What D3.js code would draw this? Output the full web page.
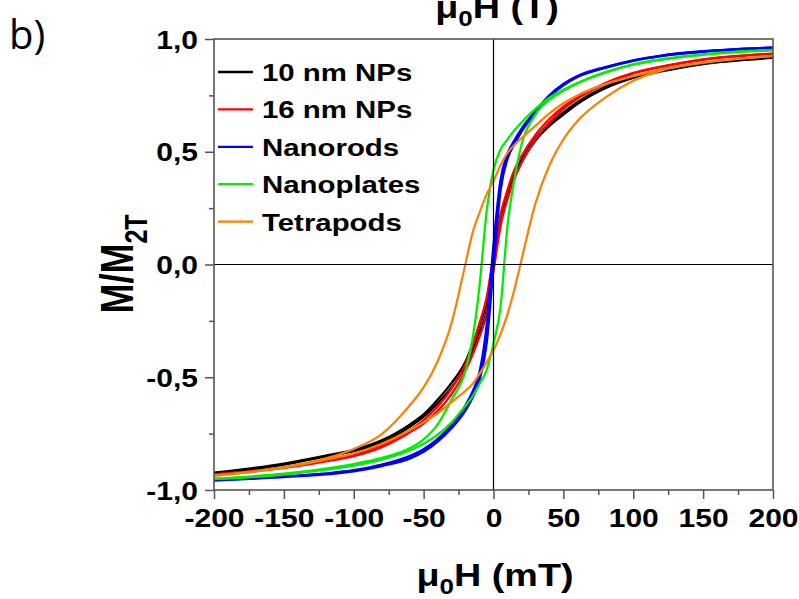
<!DOCTYPE html>
<html>
<head>
<meta charset="utf-8">
<script src="https://cdn.jsdelivr.net/npm/d3@7"></script>
<style>
html,body{margin:0;padding:0;background:#fff;}
svg{display:block;}
text{font-family:"Liberation Sans",Arial,sans-serif;}
</style>
</head>
<body>
<svg id="chart" width="799" height="599"></svg>
<script>
// Field grid (mT) shared by all branches
const fieldH = [-200,-150,-120,-100,-80,-60,-50,-40,-30,-20,-15,-10,-5,0,5,10,15,20,30,40,50,60,80,100,120,150,200];

// Descending (upper) and ascending (lower) branches, M/M2T
const np10Upper = [-0.923,-0.883,-0.848,-0.822,-0.78,-0.71,-0.665,-0.6,-0.525,-0.43,-0.355,-0.27,-0.17,0.03,0.21,0.32,0.405,0.465,0.56,0.625,0.675,0.72,0.788,0.832,0.86,0.891,0.918];
const np10Lower = [-0.927,-0.887,-0.852,-0.828,-0.79,-0.72,-0.675,-0.615,-0.545,-0.45,-0.385,-0.30,-0.21,-0.01,0.19,0.30,0.39,0.455,0.55,0.615,0.665,0.712,0.782,0.828,0.856,0.889,0.916];

const np16Upper = [-0.93,-0.9,-0.87,-0.845,-0.80,-0.735,-0.69,-0.63,-0.55,-0.44,-0.36,-0.26,-0.15,0.04,0.22,0.33,0.42,0.48,0.575,0.645,0.70,0.74,0.805,0.85,0.878,0.91,0.935];
const np16Lower = [-0.932,-0.902,-0.873,-0.85,-0.81,-0.745,-0.705,-0.65,-0.575,-0.47,-0.40,-0.32,-0.22,-0.03,0.17,0.29,0.38,0.45,0.555,0.63,0.69,0.735,0.80,0.847,0.876,0.908,0.934];

const rodsUpper = [-0.956,-0.94,-0.927,-0.913,-0.888,-0.85,-0.82,-0.775,-0.71,-0.625,-0.565,-0.48,-0.28,0.08,0.37,0.49,0.55,0.60,0.68,0.75,0.80,0.835,0.875,0.905,0.926,0.945,0.962];
const rodsLower = [-0.958,-0.942,-0.93,-0.917,-0.893,-0.86,-0.83,-0.785,-0.725,-0.645,-0.59,-0.51,-0.35,0.00,0.33,0.47,0.535,0.59,0.675,0.745,0.795,0.832,0.873,0.904,0.925,0.944,0.961];

const platesUpper = [-0.95,-0.928,-0.905,-0.885,-0.858,-0.815,-0.775,-0.71,-0.60,-0.47,-0.33,-0.095,0.23,0.42,0.51,0.555,0.595,0.63,0.69,0.74,0.775,0.805,0.853,0.888,0.91,0.932,0.952];
const platesLower = [-0.952,-0.932,-0.91,-0.892,-0.865,-0.825,-0.795,-0.755,-0.70,-0.625,-0.585,-0.53,-0.47,-0.35,-0.19,0.17,0.38,0.53,0.665,0.73,0.77,0.803,0.851,0.886,0.908,0.93,0.95];

const podsUpper = [-0.935,-0.90,-0.86,-0.818,-0.752,-0.625,-0.545,-0.43,-0.26,0.005,0.14,0.23,0.31,0.37,0.44,0.495,0.53,0.56,0.615,0.67,0.715,0.75,0.80,0.835,0.865,0.895,0.925];
const podsLower = [-0.937,-0.90,-0.865,-0.838,-0.795,-0.735,-0.70,-0.66,-0.61,-0.56,-0.53,-0.485,-0.435,-0.38,-0.31,-0.22,-0.11,0.02,0.27,0.44,0.555,0.635,0.74,0.815,0.86,0.895,0.925];

const seriesNames = ["10 nm NPs","16 nm NPs","Nanorods","Nanoplates","Tetrapods"];
const seriesColors = ["#000000","#ff0000","#0000ff","#00ee00","#ff8000"];
const seriesWidths = [2.3,2.3,2.6,2.3,2.2];
const seriesUpper = [np10Upper,np16Upper,rodsUpper,platesUpper,podsUpper];
const seriesLower = [np10Lower,np16Lower,rodsLower,platesLower,podsLower];

const xTicks = [-200,-150,-100,-50,0,50,100,150,200];
const xTickLabels = ["-200","-150","-100","-50","0","50","100","150","200"];
const yTicks = [-1,-0.5,0,0.5,1];
const yTickLabels = ["-1,0","-0,5","0,0","0,5","1,0"];

const svg = d3.select("#chart");
const L = 214, R = 773, T = 39, B = 490;
const x = d3.scaleLinear().domain([-200,200]).range([L,R]);
const y = d3.scaleLinear().domain([-1,1]).range([B,T]);
const SX = 1.2; // horizontal stretch of the reference's lettering

// curves
const line = d3.line().x(d=>x(d[0])).y(d=>y(d[1])).curve(d3.curveMonotoneX);
const plot = svg.append("g");
seriesNames.forEach((name,i)=>{
  [seriesUpper[i],seriesLower[i]].forEach(arr=>{
    plot.append("path")
      .datum(fieldH.map((h,k)=>[h,arr[k]]))
      .attr("d",line).attr("fill","none")
      .attr("stroke",seriesColors[i]).attr("stroke-width",seriesWidths[i]);
  });
});

// zero lines (on top of curves)
svg.append("line").attr("x1",x(0)).attr("x2",x(0)).attr("y1",T).attr("y2",B).attr("stroke","#000").attr("stroke-width",1.2);
svg.append("line").attr("x1",L).attr("x2",R).attr("y1",y(0)).attr("y2",y(0)).attr("stroke","#000").attr("stroke-width",1.2);

// frame
svg.append("rect").attr("x",L).attr("y",T).attr("width",R-L).attr("height",B-T)
  .attr("fill","none").attr("stroke","#555").attr("stroke-width",1.6);

// axes
const xAxis = d3.axisBottom(x).tickValues(xTicks).tickSize(9).tickFormat((d,i)=>xTickLabels[i]);
const gx = svg.append("g").attr("transform",`translate(0,${B})`).call(xAxis);
const xMinor = d3.axisBottom(x).tickValues(d3.range(-175,200,50)).tickSize(5).tickFormat("");
svg.append("g").attr("transform",`translate(0,${B})`).call(xMinor);

const yAxis = d3.axisLeft(y).tickValues(yTicks).tickSize(9).tickFormat((d,i)=>yTickLabels[i]);
const gy = svg.append("g").attr("transform",`translate(${L},0)`).call(yAxis);
const yMinor = d3.axisLeft(y).tickValues([-0.75,-0.25,0.25,0.75]).tickSize(5).tickFormat("");
svg.append("g").attr("transform",`translate(${L},0)`).call(yMinor);

svg.selectAll(".domain").remove();
svg.selectAll(".tick line").attr("stroke","#555").attr("stroke-width",1.5);
svg.selectAll(".tick text").attr("fill","#000").style("font-size","25px").style("font-weight","bold")
  .style("font-family","'Liberation Sans',Arial,sans-serif");
gx.selectAll(".tick text").attr("y",19).attr("dy","0.71em").attr("transform",`scale(${SX},1)`);
gy.selectAll(".tick text").attr("x",-16/SX).attr("dy","0.36em").attr("transform",`scale(${SX},1)`);

// legend
const leg = svg.append("g");
seriesNames.forEach((name,i)=>{
  const yy = 72 + i*37.4;
  leg.append("line").attr("x1",218).attr("x2",253).attr("y1",yy).attr("y2",yy)
    .attr("stroke",seriesColors[i]).attr("stroke-width",2.3);
  leg.append("text").attr("transform",`translate(262,${yy+9}) scale(${SX},1)`).text(name)
    .style("font-size","24.5px").style("font-weight","bold").attr("fill","#000");
});

// axis titles
function subTitle(tx,ty,sx,main,sub,rest,fs,sfs,dy){
  const t = svg.append("text").attr("transform",`translate(${tx},${ty}) scale(${sx},1)`)
    .attr("text-anchor","middle").style("font-size",fs+"px").style("font-weight","bold");
  t.append("tspan").text(main);
  t.append("tspan").text(sub).attr("dy",dy).style("font-size",sfs+"px");
  if(rest) t.append("tspan").text(rest).attr("dy",-dy);
  return t;
}
subTitle(495,586,1.18,"μ","0","H (mT)",32,22,8);
subTitle(497,18,1.18,"μ","0","H (T)",32,22,8);

const yt = svg.append("text").attr("transform","translate(133,264) scale(1.28,1) rotate(-90)")
  .attr("text-anchor","middle").style("font-size","36px").style("font-weight","bold");
yt.append("tspan").text("M/M");
yt.append("tspan").text("2T").attr("dy",11).style("font-size","25px");

svg.append("text").attr("x",9).attr("y",49).text("b)")
  .style("font-size","40px").style("font-family","'Open Sans',sans-serif").attr("fill","#000");
</script>
</body>
</html>
